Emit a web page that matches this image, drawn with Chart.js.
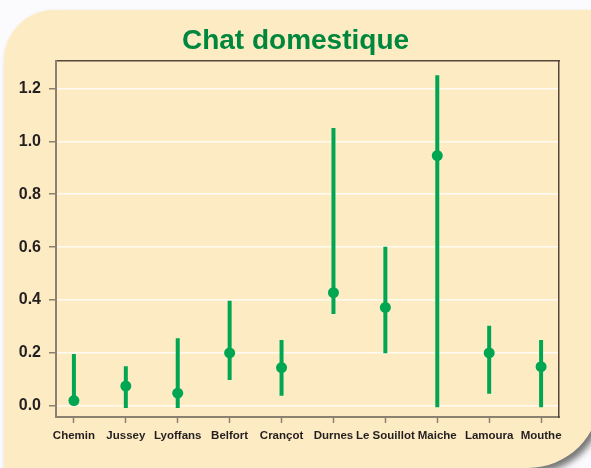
<!DOCTYPE html>
<html>
<head>
<meta charset="utf-8">
<script src="https://cdn.jsdelivr.net/npm/chart.js@4"></script>
<style>
  html, body { margin: 0; padding: 0; background: #ffffff; }
  #wrap { position: relative; width: 591px; height: 468px; overflow: hidden; background: #fbfbfd; }
  #panel {
    position: absolute; left: 4px; top: 10px; width: 596px; height: 458px;
    background: #fdecc3;
    border-radius: 50px 0 72px 0;
    box-shadow: 4px 5px 6px rgba(85, 85, 85, 0.8);
  }
  canvas { position: absolute; left: 0; top: 0; }
</style>
</head>
<body>
<div id="wrap">
  <div id="panel"></div>
  <canvas id="myChart" width="591" height="468"></canvas>
</div>
<script>
const sites = ["Chemin", "Jussey", "Lyoffans", "Belfort", "Crançot", "Durnes", "Le Souillot", "Maiche", "Lamoura", "Mouthe"];
const means = [0.02, 0.075, 0.048, 0.2, 0.145, 0.428, 0.372, 0.946, 0.2, 0.148];
const lows  = [0.02, -0.008, -0.008, 0.098, 0.038, 0.347, 0.199, -0.005, 0.046, -0.005];
const highs = [0.196, 0.15, 0.256, 0.397, 0.249, 1.05, 0.601, 1.25, 0.303, 0.249];
const yTicks = [0, 0.2, 0.4, 0.6, 0.8, 1.0, 1.2];

const green = "#00a651";
const axisGrey = "#8c8170";
const frameDark = "#55473a";

let barData = [];
let pointData = [];
for (let i = 0; i < sites.length; i++) {
  barData.push({ x: i, y: lows[i] });
  barData.push({ x: i, y: highs[i] });
  barData.push({ x: i, y: null });
  pointData.push({ x: i, y: means[i] });
}

new Chart("myChart", {
  type: "scatter",
  data: {
    datasets: [{
      type: "line",
      data: barData,
      borderColor: green,
      borderWidth: 4,
      borderCapStyle: "butt",
      pointRadius: 0,
      spanGaps: false,
      fill: false
    }, {
      data: pointData,
      backgroundColor: green,
      borderColor: green,
      pointRadius: 5.5,
      borderWidth: 0
    }]
  },
  options: {
    responsive: false,
    animation: false,
    layout: { padding: { left: 0, right: 0, top: 0, bottom: 0 } },
    plugins: {
      legend: { display: false },
      tooltip: { enabled: false },
      title: {
        display: true,
        text: "Chat domestique",
        color: "#00873e",
        font: { family: "'Liberation Sans'", size: 28, weight: "bold" },
        padding: { top: 24, bottom: 3 }
      }
    },
    scales: {
      x: {
        type: "linear",
        position: "bottom",
        min: -0.345,
        max: 9.345,
        afterBuildTicks: function (scale) {
          scale.ticks = sites.map((s, i) => ({ value: i }));
        },
        afterFit: function (scale) { scale.height = 51; },
        border: { color: axisGrey, width: 2 },
        grid: { drawOnChartArea: false, tickLength: 6, tickColor: axisGrey, tickWidth: 1.5 },
        ticks: {
          padding: 6,
          color: "#231f20",
          maxRotation: 0,
          autoSkip: false,
          font: { family: "'Liberation Sans'", size: 11.5, weight: "bold" },
          callback: function (value) { return sites[value]; }
        }
      },
      xTop: {
        type: "linear",
        position: "top",
        min: 0,
        max: 1,
        afterFit: function (scale) { scale.height = 0; },
        border: { color: frameDark, width: 1.5 },
        grid: { display: false },
        ticks: { display: false }
      },
      y: {
        min: -0.042,
        max: 1.305,
        afterBuildTicks: function (scale) {
          scale.ticks = yTicks.map(v => ({ value: v }));
        },
        afterFit: function (scale) { scale.width = 56; },
        border: { color: axisGrey, width: 2 },
        grid: { color: "rgba(255,255,255,0.8)", lineWidth: 1.5, tickLength: 7, tickColor: axisGrey, tickWidth: 1.5 },
        ticks: {
          padding: 8,
          color: "#231f20",
          font: { family: "'Liberation Sans'", size: 16, weight: "bold" },
          callback: function (value) { return value.toFixed(1); }
        }
      },
      yRight: {
        position: "right",
        min: 0,
        max: 1,
        afterFit: function (scale) { scale.width = 32; },
        border: { color: frameDark, width: 1.5 },
        grid: { display: false },
        ticks: { display: false }
      }
    }
  }
});
</script>
</body>
</html>
